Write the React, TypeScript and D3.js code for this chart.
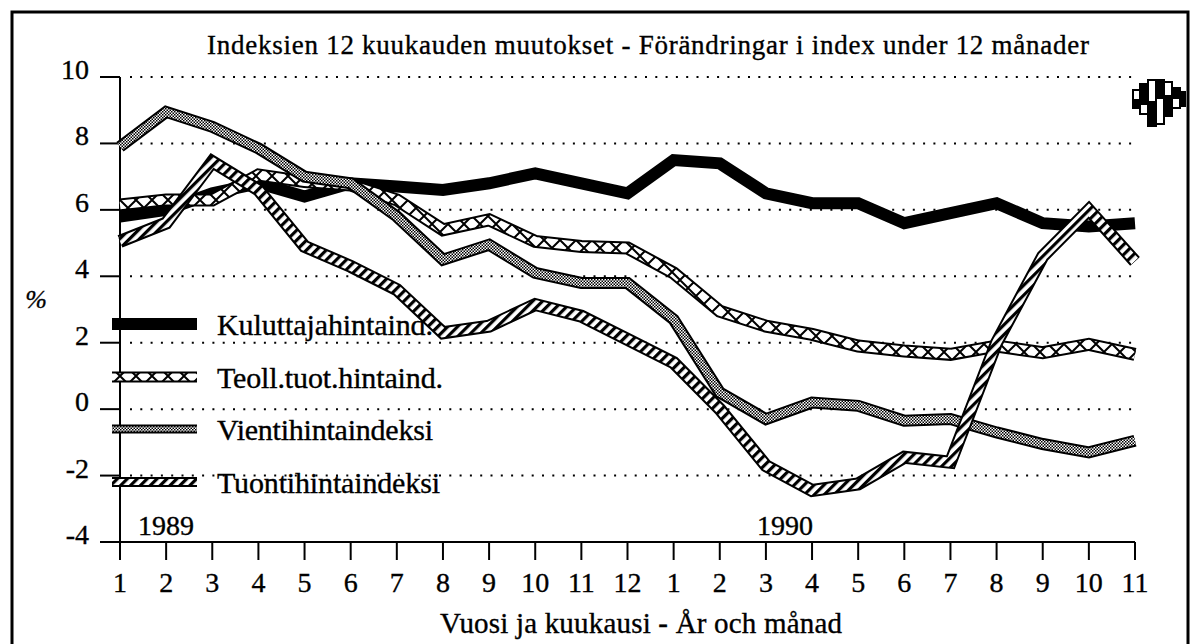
import React, { useRef, useEffect } from "react";
import * as d3 from "d3";

// 12-month changes of price indices, 1989/1 .. 1990/11
const months = ["1","2","3","4","5","6","7","8","9","10","11","12","1","2","3","4","5","6","7","8","9","10","11"];
const kuluttaja = [5.8, 6.0, 6.5, 6.8, 6.4, 6.8, 6.7, 6.6, 6.8, 7.1, 6.8, 6.5, 7.5, 7.4, 6.5, 6.2, 6.2, 5.6, 5.9, 6.2, 5.6, 5.5, 5.6];
const teoll = [6.15, 6.3, 6.3, 7.05, 6.85, 6.75, 6.3, 5.4, 5.7, 5.05, 4.9, 4.85, 4.1, 2.95, 2.5, 2.25, 1.9, 1.75, 1.65, 1.9, 1.7, 1.95, 1.65];
const vienti = [7.9, 8.95, 8.5, 7.85, 7.0, 6.8, 5.8, 4.5, 4.95, 4.1, 3.8, 3.8, 2.7, 0.5, -0.3, 0.2, 0.1, -0.35, -0.3, -0.7, -1.05, -1.3, -0.95];
const tuonti = [5.05, 5.6, 7.45, 6.6, 4.9, 4.3, 3.6, 2.3, 2.5, 3.15, 2.8, 2.1, 1.4, 0.0, -1.7, -2.45, -2.25, -1.45, -1.6, 2.0, 4.6, 6.0, 4.45];
const yTicks = [10, 8, 6, 4, 2, 0, -2, -4];
const seriesNames = ["Kuluttajahintaind.", "Teoll.tuot.hintaind.", "Vientihintaindeksi", "Tuontihintaindeksi"];

const font = "Liberation Serif, Tinos, Times New Roman, DejaVu Serif, serif";

const App = () => {
  const canvas = useRef<HTMLDivElement>(null);

  const width = 1199;
  const height = 644;

  const x = d3.scaleLinear().domain([0, months.length - 1]).range([120, 1135]);
  const y = d3.scaleLinear().domain([-4, 10]).range([542, 77]);

  const drawChart = () => {
    d3.select(canvas.current).selectAll("*").remove();

    const svg = d3.select(canvas.current)
      .append("svg")
      .attr("width", width)
      .attr("height", height)
      .attr("font-family", font)
      .style("position", "absolute")
      .style("left", "0px")
      .style("top", "0px")
      .style("background", "#fff");

    // patterns for the line fills
    const defs = svg.append("defs");
    const hatch = defs.append("pattern")
      .attr("id", "hatch")
      .attr("patternUnits", "userSpaceOnUse")
      .attr("width", 7).attr("height", 7)
      .attr("patternTransform", "rotate(45)");
    hatch.append("rect").attr("width", 7).attr("height", 7).attr("fill", "#fff");
    hatch.append("rect").attr("width", 3.2).attr("height", 7).attr("fill", "#000");

    const cross = defs.append("pattern")
      .attr("id", "cross")
      .attr("patternUnits", "userSpaceOnUse")
      .attr("width", 16).attr("height", 16);
    cross.append("rect").attr("width", 16).attr("height", 16).attr("fill", "#fff");
    cross.append("path").attr("d", "M0,0L16,16M16,0L0,16M-4,12L4,20M12,-4L20,4M-4,4L4,-4M12,20L20,12")
      .attr("stroke", "#000").attr("stroke-width", 2);

    const dots = defs.append("pattern")
      .attr("id", "dots")
      .attr("patternUnits", "userSpaceOnUse")
      .attr("width", 3).attr("height", 3);
    dots.append("rect").attr("width", 3).attr("height", 3).attr("fill", "#fff");
    dots.append("rect").attr("width", 1.5).attr("height", 1.5).attr("fill", "#000");
    dots.append("rect").attr("x", 1.5).attr("y", 1.5).attr("width", 1.5).attr("height", 1.5).attr("fill", "#000");

    // frame
    svg.append("rect")
      .attr("x", 12).attr("y", 12).attr("width", 1176).attr("height", 660)
      .attr("fill", "none").attr("stroke", "#000").attr("stroke-width", 3);

    // all texts go in one group, slightly stroked to look like the heavy print
    const txt = svg.append("g").attr("stroke", "#000").attr("stroke-width", 0.35);

    txt.append("text")
      .attr("x", 648).attr("y", 54)
      .attr("text-anchor", "middle")
      .attr("font-size", 27)
      .attr("textLength", 882).attr("lengthAdjust", "spacing")
      .text("Indeksien 12 kuukauden muutokset  -  Förändringar i index under 12 månader");

    // grid
    svg.append("g").selectAll("line")
      .data(yTicks.filter(d => d > -4))
      .enter().append("line")
      .attr("x1", 130).attr("x2", 1136)
      .attr("y1", d => y(d)).attr("y2", d => y(d))
      .attr("stroke", "#000").attr("stroke-width", 2)
      .attr("stroke-dasharray", "2 8.3");

    // y axis
    const ya = svg.append("g");
    ya.append("line").attr("x1", 120).attr("x2", 120).attr("y1", y(10)).attr("y2", 560)
      .attr("stroke", "#000").attr("stroke-width", 2);
    ya.selectAll("line.t").data(yTicks).enter().append("line")
      .attr("class", "t")
      .attr("x1", 100).attr("x2", 120)
      .attr("y1", d => y(d)).attr("y2", d => y(d))
      .attr("stroke", "#000").attr("stroke-width", 2);
    txt.append("g").selectAll("text").data(yTicks).enter().append("text")
      .attr("x", 89).attr("y", d => y(d) + 2)
      .attr("text-anchor", "end")
      .attr("font-size", 28)
      .text(d => d);

    txt.append("text").attr("x", 36).attr("y", 308)
      .attr("text-anchor", "middle")
      .attr("font-size", 26).attr("font-style", "italic")
      .text("%");

    // x axis
    const xa = svg.append("g");
    xa.append("line").attr("x1", 100).attr("x2", x(months.length - 1)).attr("y1", y(-4)).attr("y2", y(-4))
      .attr("stroke", "#000").attr("stroke-width", 2);
    xa.selectAll("line.t").data(months).enter().append("line")
      .attr("class", "t")
      .attr("x1", (d, i) => x(i)).attr("x2", (d, i) => x(i))
      .attr("y1", y(-4)).attr("y2", 560)
      .attr("stroke", "#000").attr("stroke-width", 2);
    txt.append("g").selectAll("text").data(months).enter().append("text")
      .attr("x", (d, i) => x(i)).attr("y", 592)
      .attr("text-anchor", "middle")
      .attr("font-size", 28)
      .text(d => d);

    txt.append("text").attr("x", 166).attr("y", 535).attr("text-anchor", "middle")
      .attr("font-size", 28).text("1989");
    txt.append("text").attr("x", 785).attr("y", 535).attr("text-anchor", "middle")
      .attr("font-size", 28).text("1990");

    txt.append("text").attr("x", 641).attr("y", 633).attr("text-anchor", "middle")
      .attr("font-size", 29)
      .attr("textLength", 402).attr("lengthAdjust", "spacing")
      .text("Vuosi ja kuukausi - År och månad");

    // logo
    const logo = svg.append("g").attr("stroke", "#000").attr("stroke-width", 2);
    const blocks: [number, number, number, number, string][] = [
      [1133, 90, 7, 16, "#fff"], [1133, 100, 7, 8, "#000"],
      [1140, 84, 8, 20, "#000"], [1140, 104, 8, 10, "#fff"],
      [1148, 80, 8, 22, "#fff"], [1148, 102, 8, 24, "#000"],
      [1156, 80, 8, 18, "#000"], [1156, 98, 8, 26, "#fff"],
      [1164, 82, 8, 14, "#fff"], [1164, 96, 8, 20, "#000"],
      [1172, 88, 8, 10, "#000"], [1172, 98, 8, 10, "#fff"],
      [1180, 92, 5, 14, "#000"]
    ];
    logo.selectAll("rect").data(blocks).enter().append("rect")
      .attr("x", d => d[0]).attr("y", d => d[1]).attr("width", d => d[2]).attr("height", d => d[3])
      .attr("fill", d => d[4]);

    // series
    const line = d3.line<number>().x((d, i) => x(i)).y(d => y(d));
    const layered = (g: any, dAttr: string, fill: string, inner: number) => {
      g.append("path").attr("d", dAttr).attr("fill", "none").attr("stroke", "#000")
        .attr("stroke-width", inner + 4).attr("stroke-linejoin", "miter");
      g.append("path").attr("d", dAttr).attr("fill", "none").attr("stroke", fill)
        .attr("stroke-width", inner).attr("stroke-linejoin", "miter");
    };

    const lines = svg.append("g");
    lines.append("path").attr("d", line(kuluttaja)).attr("fill", "none")
      .attr("stroke", "#000").attr("stroke-width", 12).attr("stroke-linejoin", "miter");
    layered(lines, line(teoll) as string, "url(#cross)", 9);
    layered(lines, line(vienti) as string, "url(#dots)", 8);
    layered(lines, line(tuonti) as string, "url(#hatch)", 9);

    // legend
    const legY = [324, 377, 429, 482];
    const legW = [216, 226, 216, 223];
    const leg = svg.append("g");
    const seg = (ly: number) => `M112,${ly}L197,${ly}`;
    leg.append("path").attr("d", seg(legY[0])).attr("stroke", "#000").attr("stroke-width", 12);
    layered(leg, seg(legY[1]), "url(#cross)", 7);
    layered(leg, seg(legY[2]), "url(#dots)", 5);
    layered(leg, seg(legY[3]), "url(#hatch)", 6);
    txt.append("g").selectAll("text").data(seriesNames).enter().append("text")
      .attr("x", 217).attr("y", (d, i) => legY[i] + 11)
      .attr("font-size", 30)
      .attr("textLength", (d, i) => legW[i]).attr("lengthAdjust", "spacing")
      .text(d => d);
  };

  useEffect(() => {
    drawChart();
  });

  return (
    <div ref={canvas}></div>
  );
};

export default App;
